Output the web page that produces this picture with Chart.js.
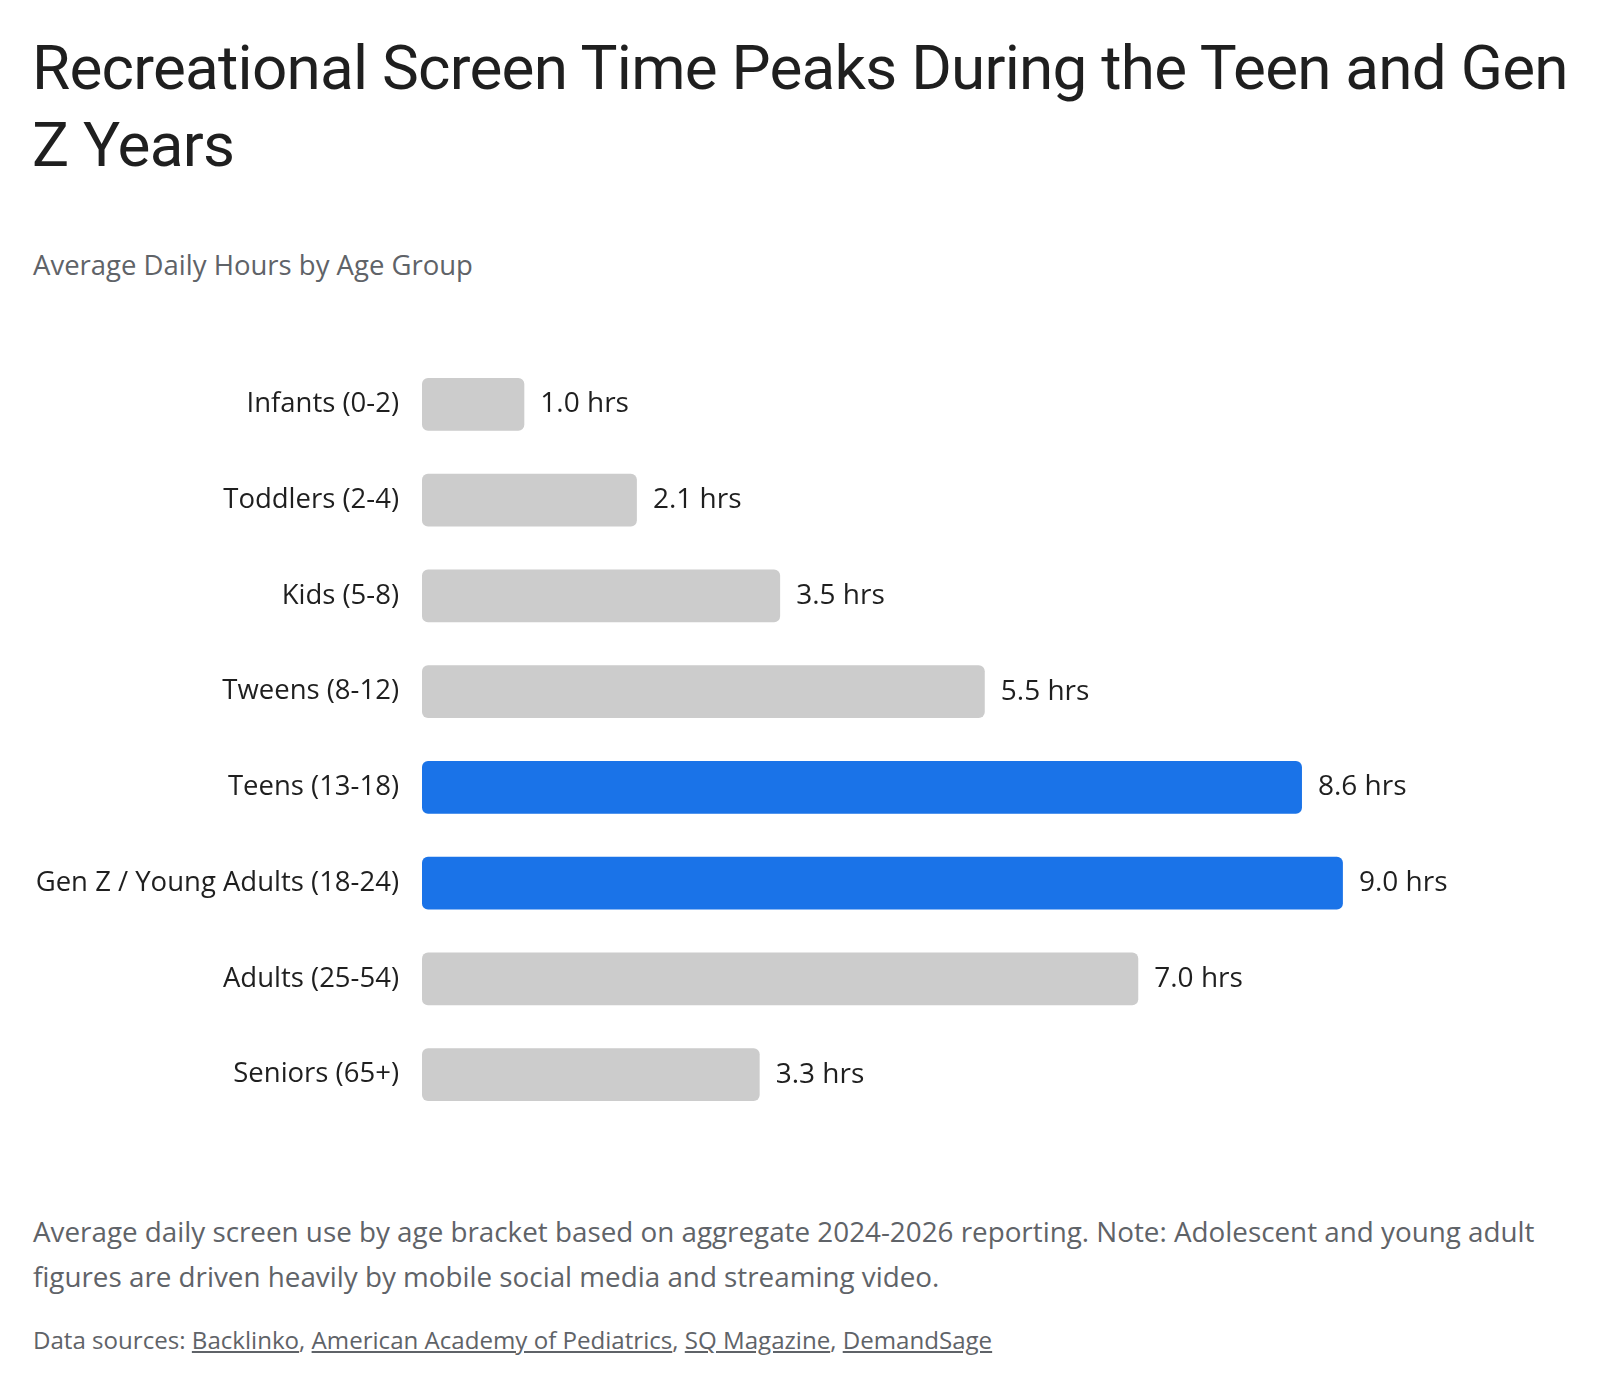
<!DOCTYPE html>
<html lang="en">
<head>
    <meta charset="UTF-8">
    <title>Recreational Screen Time Peaks During the Teen and Gen Z Years</title>
    <script src="https://cdn.jsdelivr.net/npm/chart.js"></script>
    <style>
        body {
            margin: 0;
            width: 1600px;
            height: 1390px;
            background: #ffffff;
            font-family: "Open Sans", Roboto, Arial, sans-serif;
            position: relative;
            overflow: hidden;
        }

        #title {
            position: absolute;
            left: 32px;
            top: 29px;
            font-family: Roboto, Arial, sans-serif;
            font-size: 62px;
            line-height: 77px;
            letter-spacing: -0.75px;
            font-weight: 400;
            color: #1f1f1f;
            white-space: nowrap;
            margin: 0;
        }

        #subtitle {
            position: absolute;
            left: 33px;
            top: 251px;
            font-size: 27.5px;
            line-height: 27.5px;
            color: #5f6368;
        }

        #chart {
            position: absolute;
            left: 0;
            top: 317px;
        }

        #note {
            position: absolute;
            left: 33px;
            top: 1209px;
            font-size: 27.8px;
            line-height: 45px;
            color: #5f6368;
            white-space: nowrap;
        }

        #sources {
            position: absolute;
            left: 33px;
            top: 1328px;
            font-size: 24.1px;
            line-height: 24.5px;
            color: #5f6368;
        }

        #sources a {
            color: #5f6368;
        }
    </style>
</head>
<body>
<h1 id="title">Recreational Screen Time Peaks During the Teen and Gen<br>Z Years</h1>
<div id="subtitle">Average Daily Hours by Age Group</div>
<canvas id="chart" width="1600" height="845"></canvas>
<div id="note">Average daily screen use by age bracket based on aggregate 2024-2026 reporting. Note: Adolescent and young adult<br>figures are driven heavily by mobile social media and streaming video.</div>
<div id="sources">Data sources: <a href="#">Backlinko</a>, <a href="#">American Academy of Pediatrics</a>, <a href="#">SQ Magazine</a>, <a href="#">DemandSage</a></div>

<script>
    // datos
    const ageGroups = ['Infants (0-2)', 'Toddlers (2-4)', 'Kids (5-8)', 'Tweens (8-12)', 'Teens (13-18)', 'Gen Z / Young Adults (18-24)', 'Adults (25-54)', 'Seniors (65+)'];
    const dailyHours = [1.0, 2.1, 3.5, 5.5, 8.6, 9.0, 7.0, 3.3];
    const highlighted = ['Teens (13-18)', 'Gen Z / Young Adults (18-24)'];

    const barColors = ageGroups.map(g => highlighted.includes(g) ? '#1a73e8' : '#cccccc');
    const labelFont = '"Open Sans", Roboto, Arial, sans-serif';

    // etiquetas de valor al final de cada barra
    const valueLabels = {
        id: 'valueLabels',
        afterDatasetsDraw(chart) {
            const ctx = chart.ctx;
            const meta = chart.getDatasetMeta(0);
            ctx.save();
            ctx.font = '28px ' + labelFont;
            ctx.fillStyle = '#1f1f1f';
            ctx.textAlign = 'left';
            ctx.textBaseline = 'middle';
            meta.data.forEach((bar, i) => {
                ctx.fillText(dailyHours[i].toFixed(1) + ' hrs', bar.x + 16, bar.y);
            });
            ctx.restore();
        }
    };

    new Chart(document.getElementById('chart').getContext('2d'), {
        type: 'bar',
        data: {
            labels: ageGroups,
            datasets: [{
                data: dailyHours,
                backgroundColor: barColors,
                borderRadius: 6,
                borderSkipped: false,
                barPercentage: 0.55,
                categoryPercentage: 1
            }]
        },
        options: {
            indexAxis: 'y',
            responsive: false,
            animation: false,
            devicePixelRatio: 1,
            layout: {
                padding: { left: 0, right: 32, top: 0, bottom: 0 }
            },
            plugins: {
                legend: { display: false },
                tooltip: { enabled: false }
            },
            scales: {
                x: {
                    display: false,
                    min: 0,
                    max: 11.2
                },
                y: {
                    grid: { display: false, drawTicks: false },
                    border: { display: false },
                    ticks: {
                        padding: 23,
                        color: '#1f1f1f',
                        font: { family: labelFont, size: 27.5 }
                    },
                    afterFit(scale) {
                        scale.width = 422;
                    }
                }
            }
        },
        plugins: [valueLabels]
    });
</script>
</body>
</html>
